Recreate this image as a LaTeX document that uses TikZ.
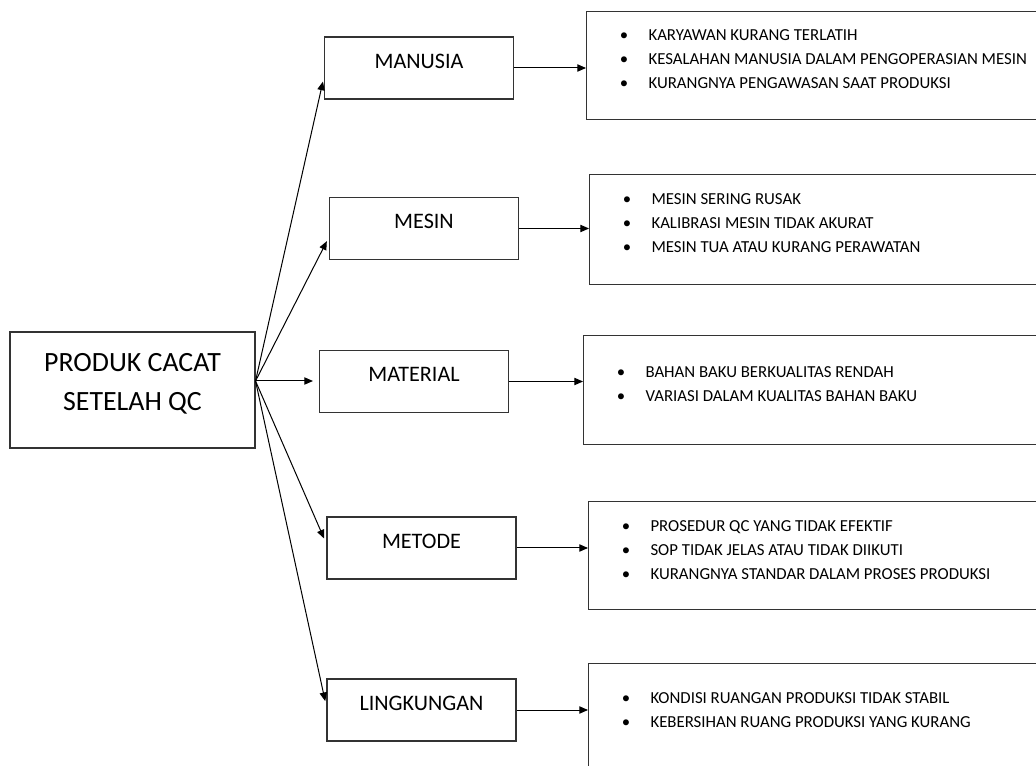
\documentclass[tikz,border=0pt]{standalone}
\usepackage{fontspec}
\setmainfont{Carlito}
\usetikzlibrary{arrows.meta}
\tikzstyle{qcbox}=[draw=black!80, line width=0.8pt, inner sep=0pt]
\tikzstyle{problem}=[qcbox, minimum width=183.75pt, minimum height=87pt, font=\fontsize{20.9}{29.25}\selectfont, text height=29pt, text depth=29pt]
\tikzstyle{effect}=[qcbox, minimum width=141.75pt, minimum height=46.5pt, font=\fontsize{16.6}{20}\selectfont, text height=10.5pt, text depth=10pt]
\tikzstyle{causebox}=[qcbox, anchor=north west, font=\fontsize{12.6}{18}\selectfont]
\tikzstyle{link}=[-{Triangle[length=6.5pt, width=5.5pt]}, line width=0.75pt]
\newcommand{\causes}[3]{\parbox[c][#2][t]{400pt}{\vspace*{#1}#3}}
\newcommand{\cause}[1]{\hspace*{25pt}\makebox[21.5pt][l]{\textbullet}#1\strut\par}

\begin{document}
\begin{tikzpicture}[x=0.75pt, y=-0.75pt]
        \path[use as bounding box, clip] (0,0) rectangle (1036,766);
        \node[problem] (produk) at (132.5, 390) {\begin{tabular}{@{}c@{}}PRODUK CACAT\\SETELAH QC\end{tabular}};
        \coordinate (hub) at ([yshift=6.75pt]produk.east);
        \node[effect] (manusia) at (419, 68) {MANUSIA};
        \node[effect] (mesin) at (424, 228.5) {MESIN};
        \node[effect] (material) at (414, 381.5) {MATERIAL};
        \node[effect] (metode) at (421.5, 548) {METODE};
        \node[effect] (lingkungan) at (421.5, 710) {LINGKUNGAN};
        \node[causebox] (manusiaC) at (586, 11) {\causes{9.5pt}{81pt}{%
            \cause{KARYAWAN KURANG TERLATIH}%
            \cause{KESALAHAN MANUSIA DALAM PENGOPERASIAN MESIN}%
            \cause{KURANGNYA PENGAWASAN SAAT PRODUKSI}}};
        \node[causebox] (mesinC) at (589, 174) {\causes{10.2pt}{82.5pt}{%
            \cause{MESIN SERING RUSAK}%
            \cause{KALIBRASI MESIN TIDAK AKURAT}%
            \cause{MESIN TUA ATAU KURANG PERAWATAN}}};
        \node[causebox] (materialC) at (583, 335) {\causes{19.2pt}{81.75pt}{%
            \cause{BAHAN BAKU BERKUALITAS RENDAH}%
            \cause{VARIASI DALAM KUALITAS BAHAN BAKU}}};
        \node[causebox] (metodeC) at (588, 501) {\causes{10.2pt}{81pt}{%
            \cause{PROSEDUR QC YANG TIDAK EFEKTIF}%
            \cause{SOP TIDAK JELAS ATAU TIDAK DIIKUTI}%
            \cause{KURANGNYA STANDAR DALAM PROSES PRODUKSI}}};
        \node[causebox] (lingkunganC) at (588, 663) {\causes{17.7pt}{90pt}{%
            \cause{KONDISI RUANGAN PRODUKSI TIDAK STABIL}%
            \cause{KEBERSIHAN RUANG PRODUKSI YANG KURANG}}};
        \draw[link, shorten >=3.5pt] (hub) -- ([yshift=-6.75pt]manusia.west);
        \draw[link, shorten >=3.5pt] (hub) -- ([yshift=-6.4pt]mesin.west);
        \draw[link, shorten >=4.5pt] (hub) -- (hub -| material.west);
        \draw[link, shorten >=4.5pt] (hub) -- ([yshift=3pt]metode.west);
        \draw[link, shorten >=4.5pt] (hub) -- ([yshift=2.25pt]lingkungan.west);
        \foreach \e in {manusia, mesin, material, metode, lingkungan}
            \draw[link] (\e.east) -- (\e.east -| \e C.west);
    \end{tikzpicture}
\end{document}
